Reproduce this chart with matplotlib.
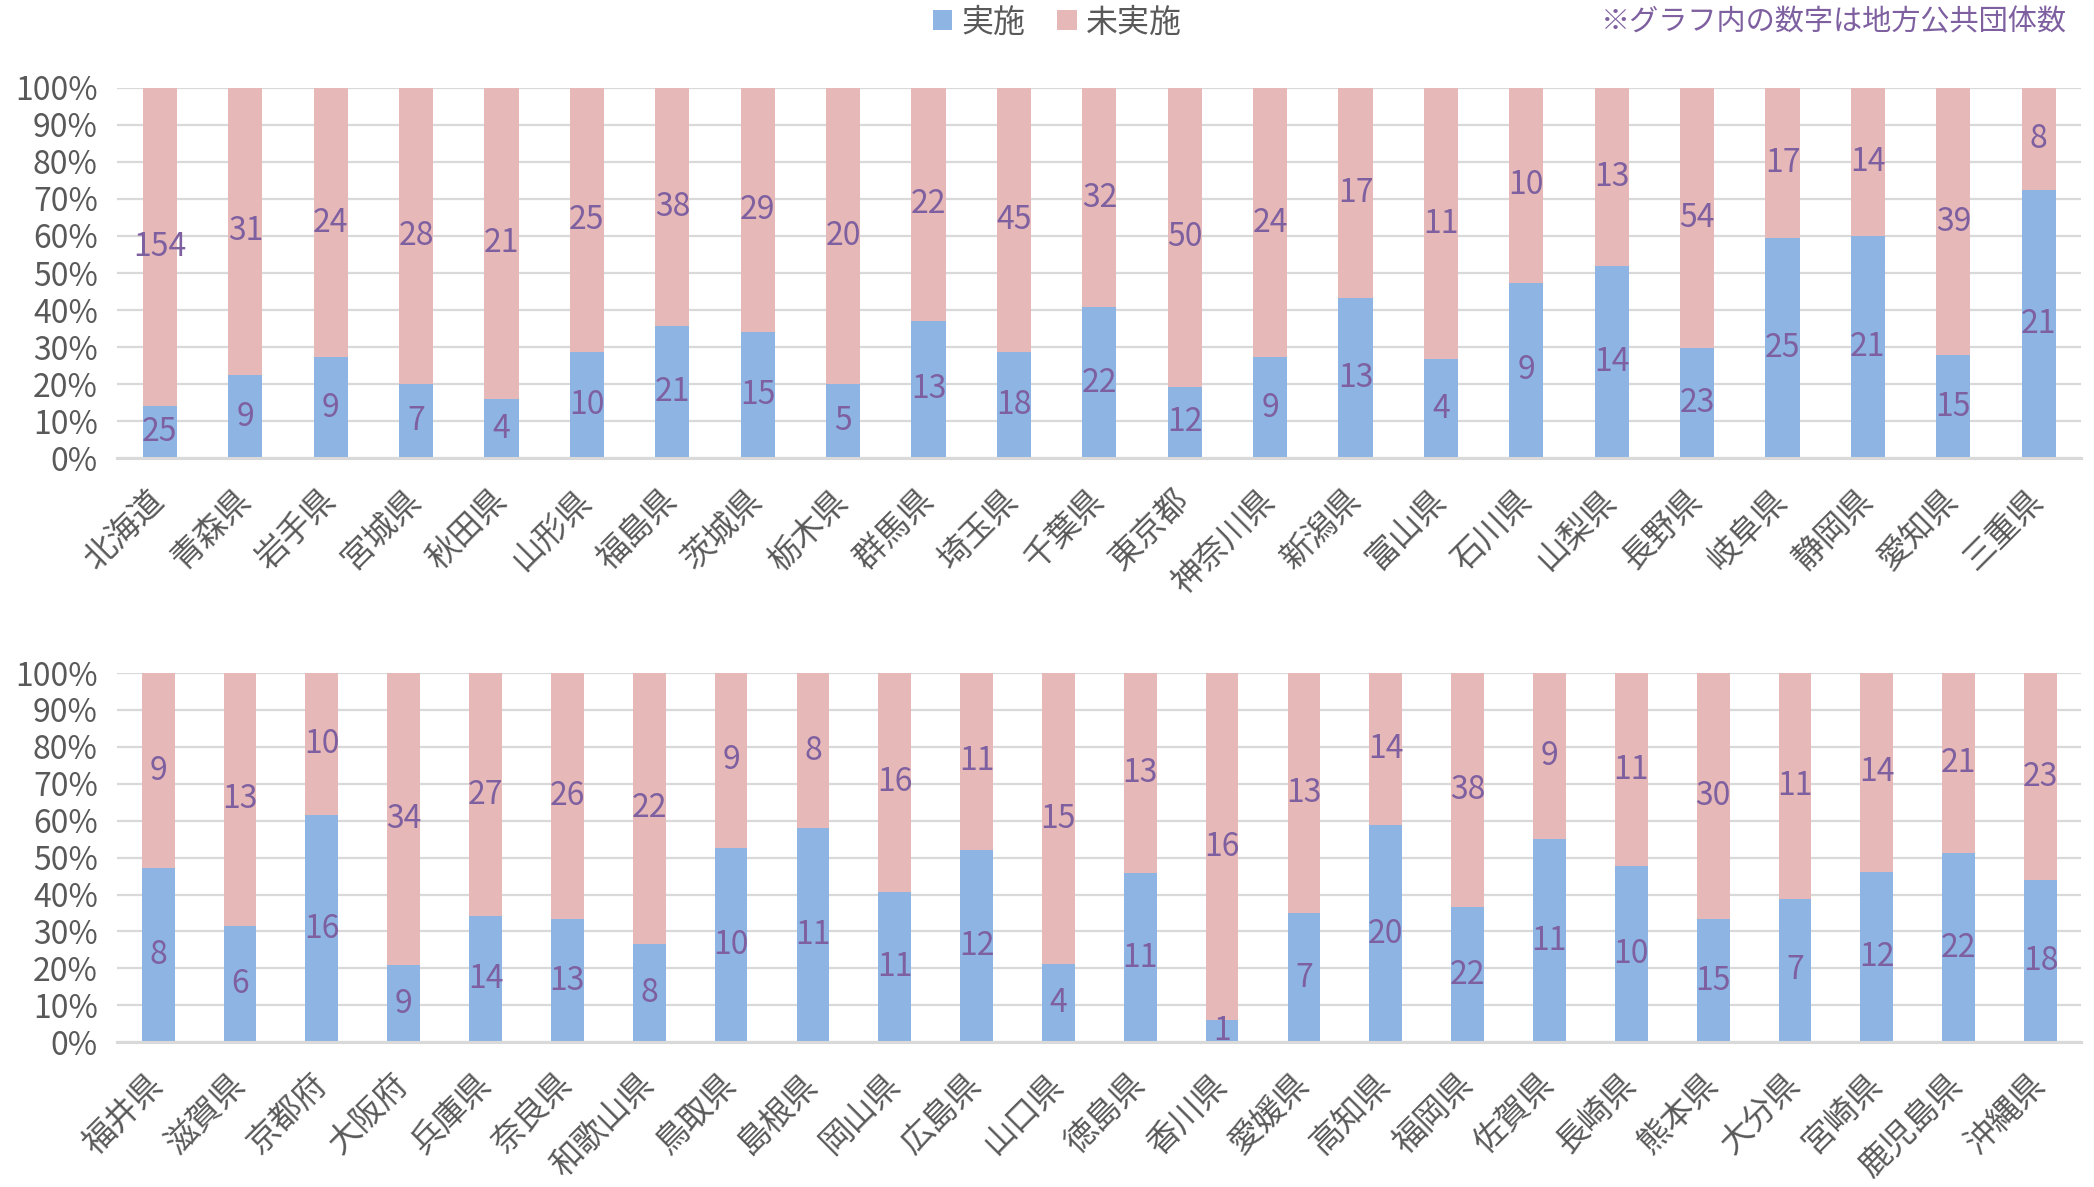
import matplotlib
matplotlib.use("Agg")
import matplotlib.pyplot as plt
import numpy as np
from matplotlib.ticker import PercentFormatter

plt.rcParams['font.family'] = ['Noto Sans CJK JP', 'DejaVu Sans']

top_prefs = ["北海道", "青森県", "岩手県", "宮城県", "秋田県", "山形県", "福島県", "茨城県",
             "栃木県", "群馬県", "埼玉県", "千葉県", "東京都", "神奈川県", "新潟県", "富山県",
             "石川県", "山梨県", "長野県", "岐阜県", "静岡県", "愛知県", "三重県"]
top_done = [25, 9, 9, 7, 4, 10, 21, 15, 5, 13, 18, 22, 12, 9, 13, 4, 9, 14, 23, 25, 21, 15, 21]
top_not = [154, 31, 24, 28, 21, 25, 38, 29, 20, 22, 45, 32, 50, 24, 17, 11, 10, 13, 54, 17, 14, 39, 8]

bot_prefs = ["福井県", "滋賀県", "京都府", "大阪府", "兵庫県", "奈良県", "和歌山県", "鳥取県",
             "島根県", "岡山県", "広島県", "山口県", "徳島県", "香川県", "愛媛県", "高知県",
             "福岡県", "佐賀県", "長崎県", "熊本県", "大分県", "宮崎県", "鹿児島県", "沖縄県"]
bot_done = [8, 6, 16, 9, 14, 13, 8, 10, 11, 11, 12, 4, 11, 1, 7, 20, 22, 11, 10, 15, 7, 12, 22, 18]
bot_not = [9, 13, 10, 34, 27, 26, 22, 9, 8, 16, 11, 15, 13, 16, 13, 14, 38, 9, 11, 30, 11, 14, 21, 23]

series_names = ["実施", "未実施"]
note_text = "※グラフ内の数字は地方公共団体数"

BLUE = "#8EB4E3"
PINK = "#E6B9B8"
PURPLE = "#7E60A0"
GRAY = "#595959"
GRID = "#D9D9D9"

fig = plt.figure(figsize=(20.94, 11.87), dpi=100)
ax1 = fig.add_axes([0.056, 0.614, 0.938, 0.312])
ax2 = fig.add_axes([0.056, 0.122, 0.938, 0.311])

handles = None
for ax, prefs, done, notd in [(ax1, top_prefs, top_done, top_not), (ax2, bot_prefs, bot_done, bot_not)]:
    done = np.array(done, float)
    notd = np.array(notd, float)
    tot = done + notd
    pd_ = done / tot
    pn_ = notd / tot
    x = np.arange(len(prefs))
    b1 = ax.bar(x, pd_, width=0.4, color=BLUE, zorder=2, label=series_names[0])
    b2 = ax.bar(x, pn_, bottom=pd_, width=0.4, color=PINK, zorder=2, label=series_names[1])
    ax.bar_label(b1, labels=[str(int(v)) for v in done], label_type='center', color=PURPLE, fontsize=23)
    ax.bar_label(b2, labels=[str(int(v)) for v in notd], label_type='center', color=PURPLE, fontsize=23)
    handles = [b1, b2]
    ax.set_xlim(-0.5, len(prefs) - 0.5)
    ax.set_ylim(0, 1)
    ax.set_yticks(np.linspace(0, 1, 11))
    ax.yaxis.set_major_formatter(PercentFormatter(1.0, decimals=0))
    ax.grid(axis='y', color=GRID, linewidth=1.6, zorder=0)
    ax.set_axisbelow(True)
    for s in ['top', 'right', 'left']:
        ax.spines[s].set_visible(False)
    ax.spines['bottom'].set_color(GRID)
    ax.spines['bottom'].set_linewidth(2.2)
    ax.spines['bottom'].set_zorder(3)
    ax.set_xticks(x)
    ax.set_xticklabels(prefs, rotation=45, ha='right', va='center', rotation_mode='anchor',
                       fontsize=23.5, color=GRAY)
    ax.tick_params(axis='both', length=0)
    ax.tick_params(axis='x', pad=27)
    ax.tick_params(axis='y', labelsize=23, labelcolor=GRAY, pad=14)

fig.legend(handles, series_names, loc='center', bbox_to_anchor=(0.505, 0.981), ncol=2,
           frameon=False, labelcolor=GRAY, handlelength=0.6, handleheight=0.6,
           handletextpad=0.3, columnspacing=1.0, prop={'size': 23})
fig.text(0.987, 0.981, note_text, ha='right', va='center', color=PURPLE, fontsize=21)

fig.savefig("out.png", dpi=100)
